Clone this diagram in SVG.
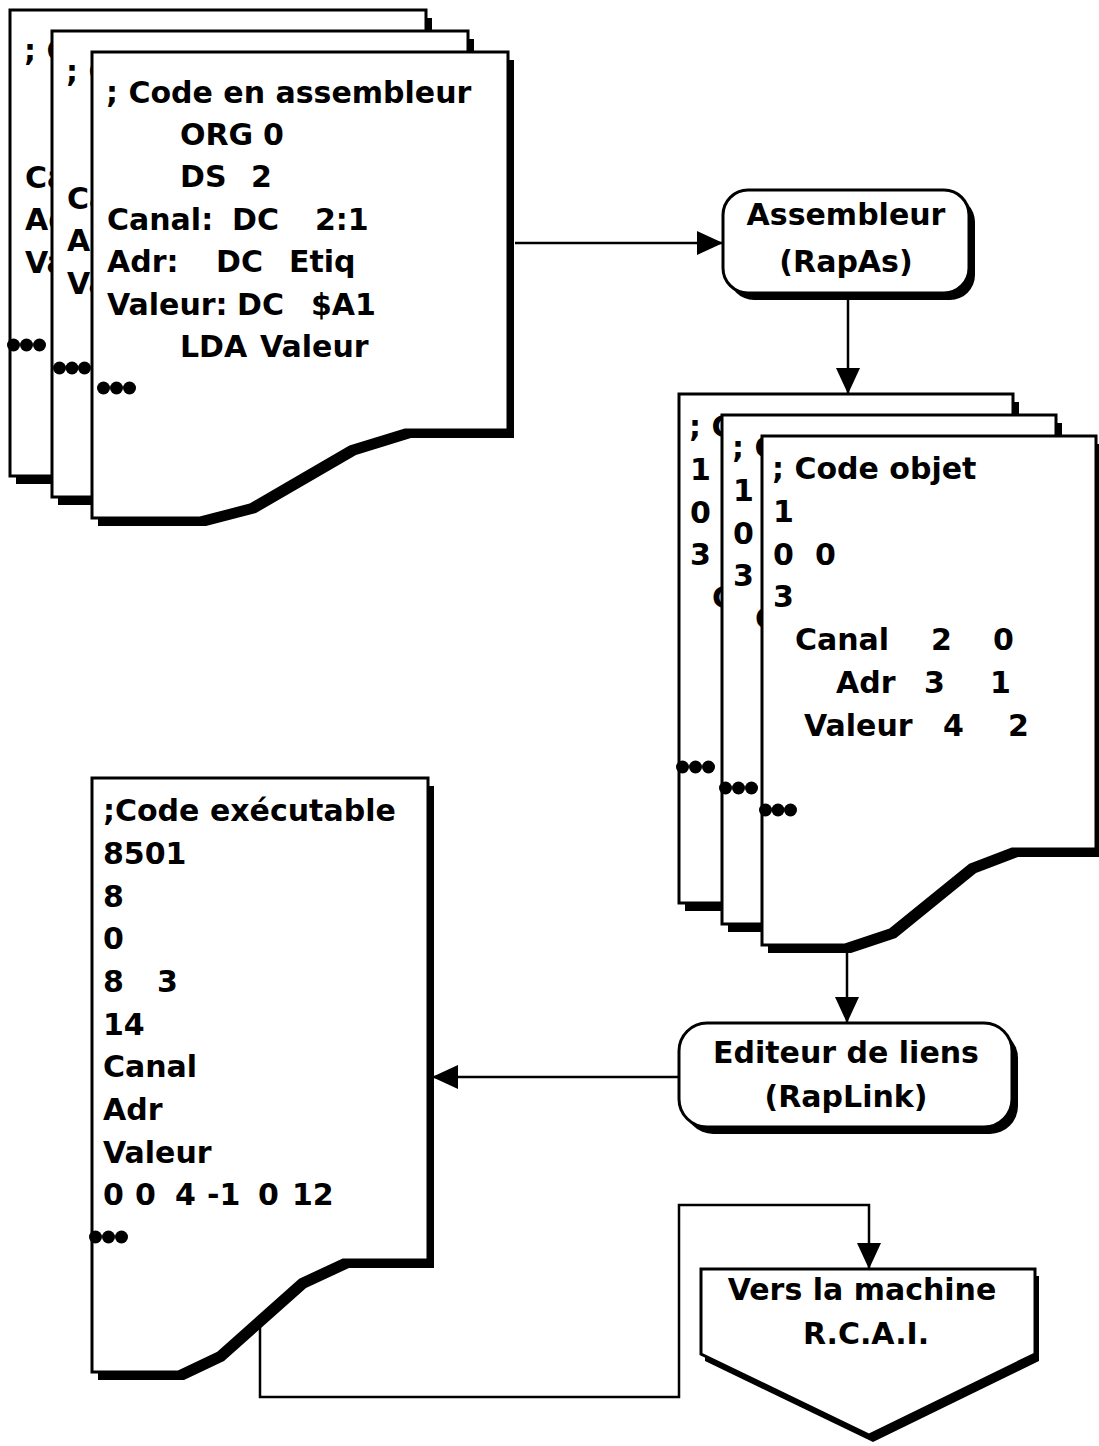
<svg xmlns="http://www.w3.org/2000/svg" width="1099" height="1446" viewBox="0 0 1099 1446">
<style>
.doc{fill:#fff;stroke:#000;stroke-width:3;stroke-linejoin:miter}
.sh{fill:#000;stroke:none}
.t{font-family:"DejaVu Sans","Liberation Sans",sans-serif;font-weight:bold;font-size:30px;fill:#000}
.c{text-anchor:middle}
.conn{fill:none;stroke:#000;stroke-width:2.5}
.dot{fill:#000}
</style>
<defs>
<marker id="ah" viewBox="0 0 26 24" refX="26" refY="12" markerWidth="26" markerHeight="24" markerUnits="userSpaceOnUse" orient="auto">
<path d="M0,0 L26,12 L0,24 Z" fill="#000"/>
</marker>
<path id="srcpage" d="M0,0 H416 V378 H313 L258,395 L158,453 L108,466 H0 Z"/>
<path id="objpage" d="M0,0 H334 V413 H250 L208,429 L128,494 L83,509 H0 Z"/>
</defs>
<rect width="1099" height="1446" fill="#fff"/>

<!-- assembly source stack -->
<g id="src-doc-1">
<use href="#srcpage" class="sh" x="16" y="18"/>
<use href="#srcpage" class="doc" x="10" y="10"/>
<text class="t" x="24" y="60.5">; C</text>
<text class="t" x="25" y="187.5">Ca</text>
<text class="t" x="25" y="230">Ad</text>
<text class="t" x="25" y="272.5">Va</text>
<circle class="dot" cx="13.5" cy="345" r="6.5"/><circle class="dot" cx="26.5" cy="345" r="6.5"/><circle class="dot" cx="39.5" cy="345" r="6.5"/>
</g>
<g id="src-doc-2">
<use href="#srcpage" class="sh" x="58" y="39"/>
<use href="#srcpage" class="doc" x="52" y="31"/>
<text class="t" x="66" y="81.5">; C</text>
<text class="t" x="67" y="208.5">Ca</text>
<text class="t" x="67" y="251">Ad</text>
<text class="t" x="67" y="293.5">Va</text>
<circle class="dot" cx="59.5" cy="368" r="6.5"/><circle class="dot" cx="72" cy="368" r="6.5"/><circle class="dot" cx="84.5" cy="368" r="6.5"/>
</g>
<g id="src-doc-3">
<use href="#srcpage" class="sh" x="98" y="60"/>
<use href="#srcpage" class="doc" x="92" y="52"/>
<text class="t" x="106" y="102.5">; Code en assembleur</text>
<text class="t" y="145"><tspan x="180">ORG</tspan> <tspan x="263">0</tspan></text>
<text class="t" y="187"><tspan x="180">DS</tspan> <tspan x="251">2</tspan></text>
<text class="t" y="229.5"><tspan x="107">Canal:</tspan> <tspan x="232">DC</tspan> <tspan x="315">2:1</tspan></text>
<text class="t" y="272"><tspan x="107">Adr:</tspan> <tspan x="216">DC</tspan> <tspan x="289">Etiq</tspan></text>
<text class="t" y="314.5"><tspan x="107">Valeur:</tspan> <tspan x="237">DC</tspan> <tspan x="311">$A1</tspan></text>
<text class="t" y="357"><tspan x="180">LDA</tspan> <tspan x="260">Valeur</tspan></text>
<circle class="dot" cx="103.5" cy="388" r="6.5"/><circle class="dot" cx="116.5" cy="388" r="6.5"/><circle class="dot" cx="129.5" cy="388" r="6.5"/>
</g>

<!-- assembler -->
<g id="assembleur">
<rect class="sh" x="729" y="197" width="246" height="103" rx="25"/>
<rect class="doc" x="723" y="190" width="246" height="103" rx="25"/>
<text class="t c" x="846" y="225">Assembleur</text>
<text class="t c" x="846" y="272">(RapAs)</text>
</g>

<!-- object code stack -->
<g id="obj-doc-1">
<use href="#objpage" class="sh" x="685" y="402"/>
<use href="#objpage" class="doc" x="679" y="394"/>
<text class="t" x="689" y="437">; C</text>
<text class="t" x="690" y="480">1</text>
<text class="t" x="690" y="523">0</text>
<text class="t" x="690" y="565">3</text>
<text class="t" x="712" y="608">C</text>
<circle class="dot" cx="682.5" cy="767" r="6.5"/><circle class="dot" cx="695.5" cy="767" r="6.5"/><circle class="dot" cx="708.5" cy="767" r="6.5"/>
</g>
<g id="obj-doc-2">
<use href="#objpage" class="sh" x="728" y="423"/>
<use href="#objpage" class="doc" x="722" y="415"/>
<text class="t" x="732" y="458">; C</text>
<text class="t" x="733" y="501">1</text>
<text class="t" x="733" y="544">0</text>
<text class="t" x="733" y="586">3</text>
<text class="t" x="755" y="629">C</text>
<circle class="dot" cx="725.5" cy="788" r="6.5"/><circle class="dot" cx="738.5" cy="788" r="6.5"/><circle class="dot" cx="751.5" cy="788" r="6.5"/>
</g>
<g id="obj-doc-3">
<use href="#objpage" class="sh" x="768" y="444"/>
<use href="#objpage" class="doc" x="762" y="436"/>
<text class="t" x="772" y="479">; Code objet</text>
<text class="t" x="773" y="522">1</text>
<text class="t" y="565"><tspan x="773">0</tspan> <tspan x="815">0</tspan></text>
<text class="t" x="773" y="607">3</text>
<text class="t" y="650"><tspan x="795">Canal</tspan> <tspan x="931">2</tspan> <tspan x="993">0</tspan></text>
<text class="t" y="693"><tspan x="836">Adr</tspan> <tspan x="924">3</tspan> <tspan x="990">1</tspan></text>
<text class="t" y="736"><tspan x="804">Valeur</tspan> <tspan x="943">4</tspan> <tspan x="1008">2</tspan></text>
<circle class="dot" cx="765.5" cy="810" r="6.5"/><circle class="dot" cx="778" cy="810" r="6.5"/><circle class="dot" cx="790.5" cy="810" r="6.5"/>
</g>

<!-- linker -->
<g id="editeur">
<rect class="sh" x="685" y="1030" width="333" height="104" rx="28"/>
<rect class="doc" x="679" y="1023" width="333" height="104" rx="28"/>
<text class="t c" x="846" y="1063">Editeur de liens</text>
<text class="t c" x="846" y="1107">(RapLink)</text>
</g>

<!-- executable -->
<g id="exec-doc">
<path class="sh" transform="translate(6,8)" d="M92,778 H428 V1260 H343 L300,1280 L218,1353 L178,1372 H92 Z"/>
<path class="doc" d="M92,778 H428 V1260 H343 L300,1280 L218,1353 L178,1372 H92 Z"/>
<text class="t" x="103" y="821">;Code exécutable</text>
<text class="t" x="103" y="864">8501</text>
<text class="t" x="103" y="907">8</text>
<text class="t" x="103" y="949">0</text>
<text class="t" y="992"><tspan x="103">8</tspan> <tspan x="157">3</tspan></text>
<text class="t" x="103" y="1035">14</text>
<text class="t" x="103" y="1077">Canal</text>
<text class="t" x="103" y="1120">Adr</text>
<text class="t" x="103" y="1163">Valeur</text>
<text class="t" y="1205"><tspan x="103">0</tspan> <tspan x="135">0</tspan> <tspan x="175">4</tspan> <tspan x="207">-1</tspan> <tspan x="258">0</tspan> <tspan x="292">12</tspan></text>
<circle class="dot" cx="95.5" cy="1237" r="6.5"/><circle class="dot" cx="108.5" cy="1237" r="6.5"/><circle class="dot" cx="121.5" cy="1237" r="6.5"/>
</g>

<!-- machine -->
<g id="machine">
<path class="sh" transform="translate(4,7)" d="M701,1269 H1035 V1354 L869,1435 L701,1354 Z"/>
<path class="doc" d="M701,1269 H1035 V1354 L869,1435 L701,1354 Z"/>
<text class="t c" x="862" y="1300">Vers la machine</text>
<text class="t c" x="866" y="1344">R.C.A.I.</text>
</g>

<g id="connectors">
<path class="conn" d="M515,243 H723" marker-end="url(#ah)"/>
<path class="conn" d="M848,300 V394" marker-end="url(#ah)"/>
<path class="conn" d="M847,953 V1023" marker-end="url(#ah)"/>
<path class="conn" d="M679,1077 H432" marker-end="url(#ah)"/>
<path class="conn" d="M260,1320 V1397 H679 V1205 H869 V1269" marker-end="url(#ah)"/>
</g>
</svg>
